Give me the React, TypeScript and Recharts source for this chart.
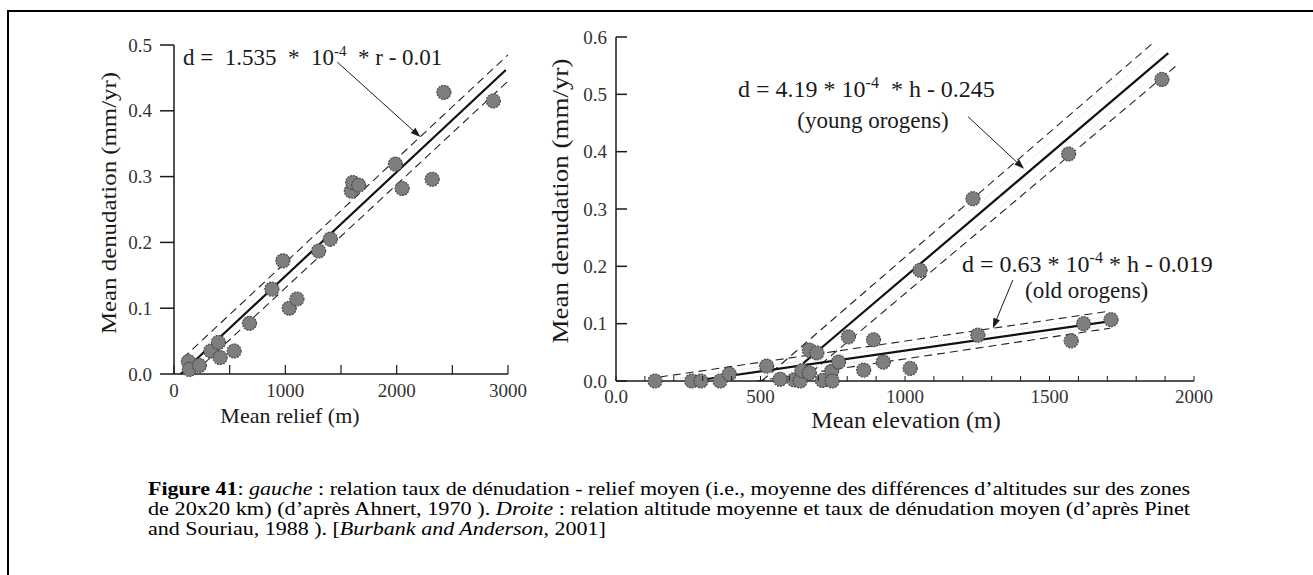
import React from "react";
import { ComposedChart, Scatter, Line, XAxis, YAxis, ReferenceLine } from "recharts";

const FONT = '"Liberation Serif", "Times New Roman", serif';
const INK = "#1a1a1a";

// gauche : relief moyen (m) / dénudation (mm/yr)
const reliefM = [129, 138, 228, 330, 399, 414, 540, 678, 879, 978, 1035, 1104, 1299, 1404, 1593, 1605, 1659, 1989, 2049, 2319, 2424, 2868];
const reliefDen = [0.019, 0.007, 0.013, 0.035, 0.048, 0.025, 0.035, 0.077, 0.129, 0.172, 0.1, 0.114, 0.187, 0.205, 0.278, 0.291, 0.287, 0.319, 0.282, 0.296, 0.428, 0.415];

// droite : altitude moyenne (m) / dénudation (mm/yr)
const elevM = [135, 262, 294, 360, 392, 521, 568, 616, 637, 643, 669, 669, 695, 714, 746, 748, 770, 804, 857, 891, 925, 1018, 1052, 1235, 1252, 1566, 1575, 1618, 1713, 1889];
const elevDen = [0, 0, 0, 0, 0.012, 0.026, 0.003, 0.002, 0, 0.018, 0.014, 0.054, 0.049, 0.001, 0.017, 0, 0.033, 0.077, 0.019, 0.072, 0.033, 0.022, 0.193, 0.318, 0.08, 0.396, 0.07, 0.1, 0.107, 0.526];

// droites de régression (extrémités)
const reliefFitX = [60, 2980];
const reliefFitY = [0, 0.462];
const reliefUpX = [80, 3000];
const reliefUpY = [0.024, 0.485];
const reliefLowX = [200, 3000];
const reliefLowY = [0.005, 0.445];
// pointillés gris clairs à l'intérieur de la bande
const reliefInUpX = [70, 2990];
const reliefInUpY = [0.012, 0.474];
const reliefInLowX = [130, 2990];
const reliefInLowY = [0.003, 0.453];

const youngFitX = [648, 1911];
const youngFitY = [0.031, 0.572];
const youngUpX = [504, 1859];
const youngUpY = [0, 0.59];
const youngLowX = [640, 1946];
const youngLowY = [0, 0.553];
const youngInUpX = [580, 1885];
const youngInUpY = [0.016, 0.581];
const youngInLowX = [660, 1928];
const youngInLowY = [0.012, 0.562];

const oldFitX = [267, 1720];
const oldFitY = [0, 0.105];
const oldUpX = [152, 1710];
const oldUpY = [0.007, 0.122];
const oldLowX = [488, 1710];
const oldLowY = [0, 0.092];
const oldInUpX = [210, 1715];
const oldInUpY = [0.004, 0.113];
const oldInLowX = [380, 1715];
const oldInLowY = [0, 0.098];

const reliefTicks = [0, 500, 1000, 1500, 2000, 2500, 3000];
const reliefDenTicks = [0, 0.1, 0.2, 0.3, 0.4, 0.5];
const elevTicks = [0, 100, 200, 300, 400, 500, 600, 700, 800, 900, 1000, 1100, 1200, 1300, 1400, 1500, 1600, 1700, 1800, 1900, 2000];
const elevDenTicks = [0, 0.1, 0.2, 0.3, 0.4, 0.5, 0.6];

const zip = (xs: number[], ys: number[]) => xs.map((x, i) => ({ x, y: ys[i] }));

const Dot = (p: any) => (
  <circle cx={p.cx} cy={p.cy} r={7} fill="#7e7e7e" stroke="#4a4a4a" strokeWidth={1.2} strokeDasharray="2 1" />
);

const Arrow = (p: any) => {
  const { x1, y1, x2, y2 } = p;
  const a = Math.atan2(y2 - y1, x2 - x1);
  const L = 10;
  const W = 3.5;
  const bx = x2 - L * Math.cos(a);
  const by = y2 - L * Math.sin(a);
  const pts = `${x2},${y2} ${bx + W * Math.sin(a)},${by - W * Math.cos(a)} ${bx - W * Math.sin(a)},${by + W * Math.cos(a)}`;
  return (
    <g>
      <line x1={x1} y1={y1} x2={bx} y2={by} stroke={INK} strokeWidth={1} />
      <polygon points={pts} fill={INK} />
    </g>
  );
};

const tickText = { fontSize: 19, fontFamily: FONT, fill: "#333" };

const LeftYTick = ({ x, y, payload }: any) => (
  <g>
    <line x1={x - 14} x2={x} y1={y} y2={y} stroke={INK} strokeWidth={1.5} />
    <text x={x - 22} y={y} textAnchor="end" dominantBaseline="central" {...tickText}>
      {payload.value.toFixed(1)}
    </text>
  </g>
);

const LeftXTick = ({ x, y, payload }: any) => (
  <g>
    <line x1={x} x2={x} y1={y} y2={y - 9} stroke={INK} strokeWidth={1.2} />
    {payload.value % 1000 === 0 && (
      <text x={x} y={y + 23} textAnchor="middle" {...tickText}>
        {payload.value}
      </text>
    )}
  </g>
);

const RightYTick = ({ x, y, payload }: any) => (
  <g>
    <line x1={x} x2={x + 11} y1={y} y2={y} stroke={INK} strokeWidth={1.5} />
    <text x={x - 9} y={y} textAnchor="end" dominantBaseline="central" {...tickText}>
      {payload.value.toFixed(1)}
    </text>
  </g>
);

const RightXTick = ({ x, y, payload }: any) => (
  <g>
    <line x1={x} x2={x} y1={y} y2={y - 5} stroke={INK} strokeWidth={1} />
    {payload.value % 500 === 0 && (
      <text x={x} y={y + 22} textAnchor="middle" {...tickText}>
        {payload.value === 0 ? "0.0" : payload.value}
      </text>
    )}
  </g>
);

const base = { dot: false, activeDot: false, isAnimationActive: false, type: "linear" as const };
const solid = { ...base, stroke: "#111", strokeWidth: 2.2 };
const dashed = { ...base, stroke: "#222", strokeWidth: 1.1, strokeDasharray: "8 5" };
const faint = { ...base, stroke: "#cdcdcd", strokeWidth: 1, strokeDasharray: "1 2" };

const LeftChart = () => (
  <ComposedChart width={530} height={420} margin={{ top: 45, right: 22, left: 0, bottom: 0 }}>
    <XAxis dataKey="x" type="number" domain={[0, 3000]} ticks={reliefTicks} interval={0} height={46}
      tickSize={0} tickMargin={0} tickLine={false} tick={<LeftXTick />} axisLine={{ stroke: INK, strokeWidth: 1.5 }} />
    <YAxis dataKey="y" type="number" domain={[0, 0.5]} ticks={reliefDenTicks} interval={0} width={174}
      tickSize={0} tickMargin={0} tickLine={false} tick={<LeftYTick />} axisLine={{ stroke: INK, strokeWidth: 1.5 }} />
    <Line data={zip(reliefInUpX, reliefInUpY)} dataKey="y" {...faint} />
    <Line data={zip(reliefInLowX, reliefInLowY)} dataKey="y" {...faint} />
    <Line data={zip(reliefUpX, reliefUpY)} dataKey="y" {...dashed} />
    <Line data={zip(reliefLowX, reliefLowY)} dataKey="y" {...dashed} />
    <Line data={zip(reliefFitX, reliefFitY)} dataKey="y" {...solid} />
    <Scatter data={zip(reliefM, reliefDen)} dataKey="y" shape={<Dot />} isAnimationActive={false} />
    <ReferenceLine segment={[{ x: 1467, y: 0.474 }, { x: 2214, y: 0.36 }]} shape={Arrow} />
  </ComposedChart>
);

const RightChart = () => (
  <ComposedChart width={680} height={420} margin={{ top: 37, right: 26, left: 0, bottom: 0 }}>
    <XAxis dataKey="x" type="number" domain={[0, 2000]} ticks={elevTicks} interval={0} height={39}
      tickSize={0} tickMargin={0} tickLine={false} tick={<RightXTick />} axisLine={{ stroke: INK, strokeWidth: 1.5 }} />
    <YAxis dataKey="y" type="number" domain={[0, 0.6]} ticks={elevDenTicks} interval={0} width={76}
      tickSize={0} tickMargin={0} tickLine={false} tick={<RightYTick />} axisLine={{ stroke: INK, strokeWidth: 1.5 }} />
    <Line data={zip(youngInUpX, youngInUpY)} dataKey="y" {...faint} />
    <Line data={zip(youngInLowX, youngInLowY)} dataKey="y" {...faint} />
    <Line data={zip(oldInUpX, oldInUpY)} dataKey="y" {...faint} />
    <Line data={zip(oldInLowX, oldInLowY)} dataKey="y" {...faint} />
    <Line data={zip(youngUpX, youngUpY)} dataKey="y" {...dashed} />
    <Line data={zip(youngLowX, youngLowY)} dataKey="y" {...dashed} />
    <Line data={zip(oldUpX, oldUpY)} dataKey="y" {...dashed} />
    <Line data={zip(oldLowX, oldLowY)} dataKey="y" {...dashed} />
    <Line data={zip(youngFitX, youngFitY)} dataKey="y" {...solid} />
    <Line data={zip(oldFitX, oldFitY)} dataKey="y" {...solid} />
    <Scatter data={zip(elevM, elevDen)} dataKey="y" shape={<Dot />} isAnimationActive={false} />
    <ReferenceLine segment={[{ x: 1218, y: 0.461 }, { x: 1412, y: 0.37 }]} shape={Arrow} />
    <ReferenceLine segment={[{ x: 1373, y: 0.176 }, { x: 1304, y: 0.092 }]} shape={Arrow} />
  </ComposedChart>
);

const txt = { fontFamily: FONT, fill: INK };

export default function App() {
  return (
    <div style={{ position: "absolute", left: 0, top: 0, width: 1313, height: 575, background: "#fff", overflow: "hidden" }}>
      <div style={{ position: "absolute", left: 7, top: 10, width: 1400, height: 700, borderTop: "2px solid #000", borderLeft: "2px solid #000" }} />
      <div style={{ position: "absolute", left: 0, top: 0 }}>
        <LeftChart />
      </div>
      <div style={{ position: "absolute", left: 540, top: 0 }}>
        <RightChart />
      </div>
      <svg width={1313} height={575} style={{ position: "absolute", left: 0, top: 0, pointerEvents: "none" }}>
        <text transform="translate(108,203) rotate(-90)" textAnchor="middle" dominantBaseline="central" fontSize={22}
          textLength={262} lengthAdjust="spacingAndGlyphs" {...txt}>
          Mean denudation (mm/yr)
        </text>
        <text x={290} y={423} textAnchor="middle" fontSize={22} {...txt}>Mean relief (m)</text>
        <text transform="translate(560,201) rotate(-90)" textAnchor="middle" dominantBaseline="central" fontSize={23}
          textLength={285} lengthAdjust="spacingAndGlyphs" {...txt}>
          Mean denudation (mm/yr)
        </text>
        <text x={906} y={428} textAnchor="middle" fontSize={24} {...txt}>Mean elevation (m)</text>

        <text x={183} y={65} fontSize={23} style={{ whiteSpace: "pre" }} {...txt}>
          {"d =  1.535  *  10"}
          <tspan fontSize={15} dy={-9}>-4</tspan>
          <tspan dy={9}>{"  * r - 0.01"}</tspan>
        </text>

        <text x={738} y={97} fontSize={24} style={{ whiteSpace: "pre" }} {...txt}>
          {"d = 4.19 * 10"}
          <tspan fontSize={16} dy={-9}>-4</tspan>
          <tspan dy={9}>{"  * h - 0.245"}</tspan>
        </text>
        <text x={873} y={128} textAnchor="middle" fontSize={23} {...txt}>(young orogens)</text>

        <text x={962} y={272} fontSize={24} style={{ whiteSpace: "pre" }} {...txt}>
          {"d = 0.63 * 10"}
          <tspan fontSize={16} dy={-9}>-4</tspan>
          <tspan dy={9}>{" * h - 0.019"}</tspan>
        </text>
        <text x={1025} y={298} fontSize={23} {...txt}>(old orogens)</text>

        <g fontSize={19} fontFamily={FONT} fill="#000">
          <text x={148} y={495} textLength={1042} lengthAdjust="spacingAndGlyphs">
            <tspan fontWeight="bold">Figure 41</tspan>: <tspan fontStyle="italic">gauche</tspan> : relation taux de dénudation - relief moyen (i.e., moyenne des différences d’altitudes sur des zones
          </text>
          <text x={148} y={515} textLength={1042} lengthAdjust="spacingAndGlyphs">
            de 20x20 km) (d’après Ahnert, 1970 ). <tspan fontStyle="italic">Droite</tspan> : relation altitude moyenne et taux de dénudation moyen (d’après Pinet
          </text>
          <text x={0} y={535} transform="translate(148,0) scale(1.159,1)">
            and Souriau, 1988 ). [<tspan fontStyle="italic">Burbank and Anderson</tspan>, 2001]
          </text>
        </g>
      </svg>
    </div>
  );
}
